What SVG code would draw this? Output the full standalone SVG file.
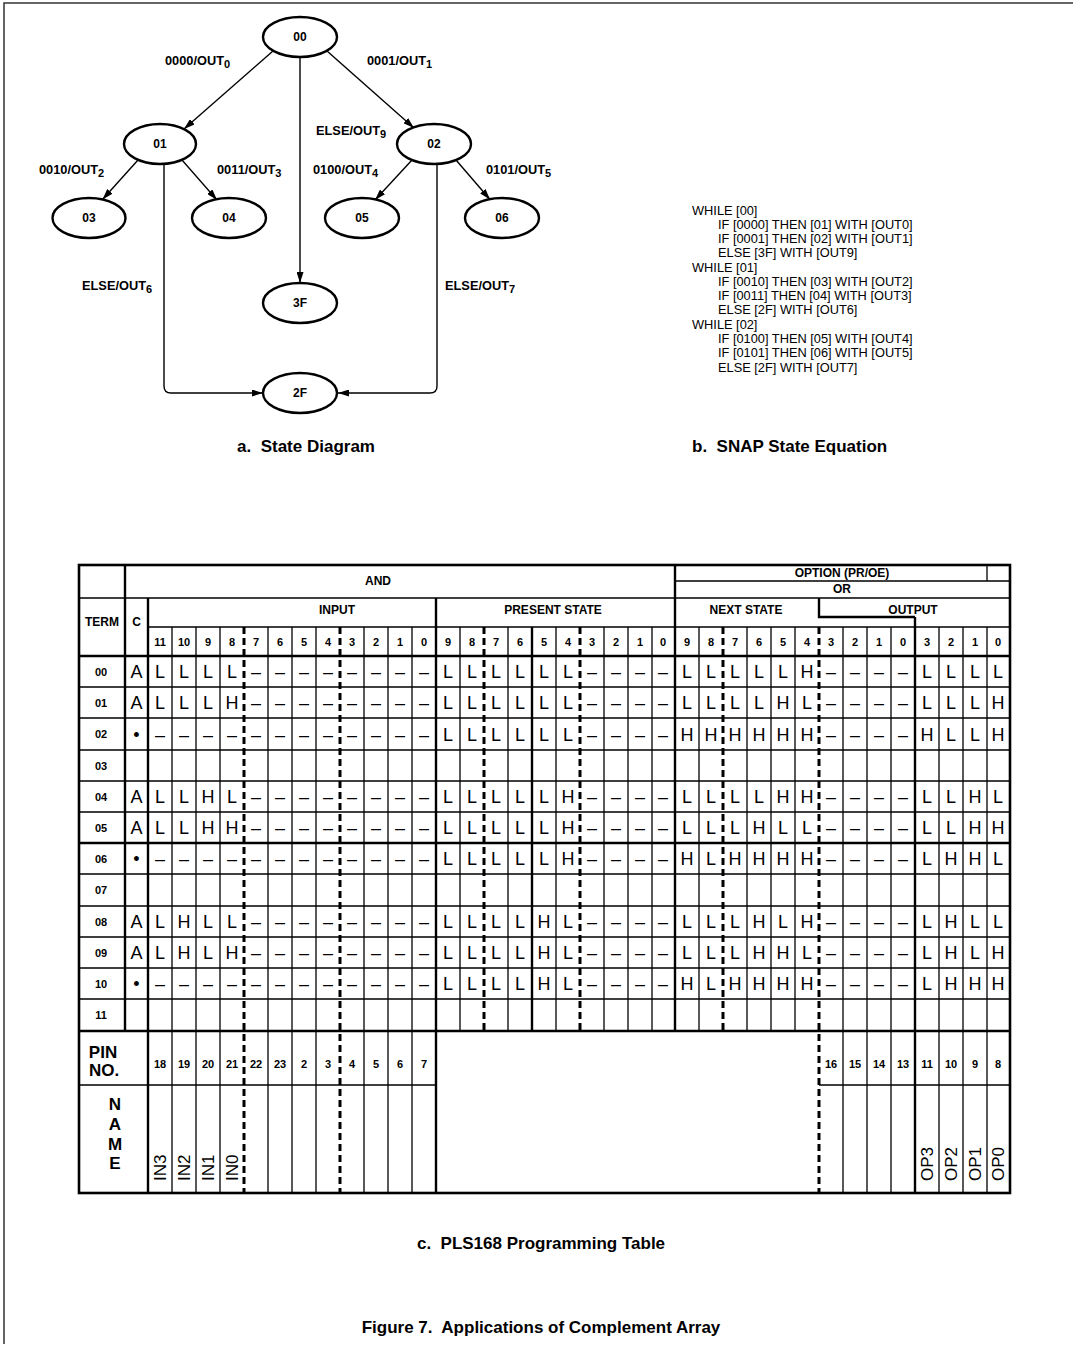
<svg xmlns="http://www.w3.org/2000/svg" width="1073" height="1346" viewBox="0 0 1073 1346">
<style>
text{font-family:"Liberation Sans",Arial,Helvetica,sans-serif;fill:#000}
.lbl{font-weight:bold;font-size:12.8px}
.sub{font-size:11px}
.nd{font-weight:bold;font-size:12px;text-anchor:middle}
.eq{font-size:12.8px}
.cap{font-weight:bold;font-size:17px;white-space:pre}
.hd{font-weight:bold;font-size:12px;text-anchor:middle}
.num{font-weight:bold;font-size:11px;text-anchor:middle}
.cell text{font-size:18px;text-anchor:middle}
.pin{font-weight:bold;font-size:17px;text-anchor:middle}
.nm{font-size:17px}
.e{fill:#fff;stroke:#000;stroke-width:2.4}
.c{fill:none;stroke:#000;stroke-width:1.4}
.thin{stroke:#000;stroke-width:1.3;fill:none}
.thick{stroke:#000;stroke-width:2.4;fill:none}
.dash{stroke:#000;stroke-width:3;stroke-dasharray:7 4;fill:none}
</style>
<defs>
<marker id="ah" viewBox="0 0 11 7" refX="11" refY="3.5" markerWidth="11" markerHeight="7" orient="auto" markerUnits="userSpaceOnUse">
<path d="M0,0 L11,3.5 L0,7 z" fill="#000"/>
</marker>
</defs>
<rect width="1073" height="1346" fill="#fff"/>
<g id="page-border">
<path d="M4,1344 V3 H1073" stroke="#333" stroke-width="1.5" fill="none"/>
</g>

<!-- State diagram -->
<g id="connectors">
<line class="c" x1="273" y1="51" x2="184" y2="129" marker-end="url(#ah)"/>
<line class="c" x1="327" y1="51" x2="414" y2="128" marker-end="url(#ah)"/>
<line class="c" x1="300" y1="57" x2="300" y2="283" marker-end="url(#ah)"/>
<line class="c" x1="138" y1="160" x2="102.5" y2="199.5" marker-end="url(#ah)"/>
<line class="c" x1="182" y1="160" x2="217" y2="200" marker-end="url(#ah)"/>
<line class="c" x1="412" y1="160" x2="375" y2="200" marker-end="url(#ah)"/>
<line class="c" x1="456" y1="160" x2="490" y2="199.5" marker-end="url(#ah)"/>
<path class="c" d="M164,164 V386 Q164,393 171,393 H263" marker-end="url(#ah)"/>
<path class="c" d="M437,164 V386 Q437,393 430,393 H338" marker-end="url(#ah)"/>
</g>
<g id="edge-labels">
<text class="lbl" x="165" y="65">0000/OUT<tspan class="sub" dy="3">0</tspan></text>
<text class="lbl" x="367" y="65">0001/OUT<tspan class="sub" dy="3">1</tspan></text>
<text class="lbl" x="316" y="135">ELSE/OUT<tspan class="sub" dy="3">9</tspan></text>
<text class="lbl" x="39" y="174">0010/OUT<tspan class="sub" dy="3">2</tspan></text>
<text class="lbl" x="217" y="174">0011/OUT<tspan class="sub" dy="3">3</tspan></text>
<text class="lbl" x="313" y="174">0100/OUT<tspan class="sub" dy="3">4</tspan></text>
<text class="lbl" x="486" y="174">0101/OUT<tspan class="sub" dy="3">5</tspan></text>
<text class="lbl" x="82" y="290">ELSE/OUT<tspan class="sub" dy="3">6</tspan></text>
<text class="lbl" x="445" y="290">ELSE/OUT<tspan class="sub" dy="3">7</tspan></text>
</g>
<g id="n00"><ellipse class="e" cx="300" cy="37" rx="37" ry="20"/><text class="nd" x="300" y="41">00</text></g>
<g id="n01"><ellipse class="e" cx="160" cy="144" rx="36" ry="20"/><text class="nd" x="160" y="148">01</text></g>
<g id="n02"><ellipse class="e" cx="434" cy="144" rx="37" ry="20"/><text class="nd" x="434" y="148">02</text></g>
<g id="n03"><ellipse class="e" cx="89" cy="218" rx="36.5" ry="20"/><text class="nd" x="89" y="222">03</text></g>
<g id="n04"><ellipse class="e" cx="229" cy="218" rx="37" ry="20"/><text class="nd" x="229" y="222">04</text></g>
<g id="n05"><ellipse class="e" cx="362" cy="218" rx="37" ry="20"/><text class="nd" x="362" y="222">05</text></g>
<g id="n06"><ellipse class="e" cx="502" cy="218" rx="37" ry="20"/><text class="nd" x="502" y="222">06</text></g>
<g id="n3F"><ellipse class="e" cx="300" cy="303" rx="37" ry="20"/><text class="nd" x="300" y="307">3F</text></g>
<g id="n2F"><ellipse class="e" cx="300" cy="393" rx="37" ry="20"/><text class="nd" x="300" y="397">2F</text></g>
<text class="cap" x="306" y="452" text-anchor="middle" xml:space="preserve">a.  State Diagram</text>

<!-- SNAP equation -->
<g id="snap-equation" class="eq">
<text class="eq" x="692" y="214.5">WHILE [00]</text>
<text class="eq" x="718" y="228.8">IF [0000] THEN [01] WITH [OUT0]</text>
<text class="eq" x="718" y="243">IF [0001] THEN [02] WITH [OUT1]</text>
<text class="eq" x="718" y="257.3">ELSE [3F] WITH [OUT9]</text>
<text class="eq" x="692" y="271.6">WHILE [01]</text>
<text class="eq" x="718" y="285.9">IF [0010] THEN [03] WITH [OUT2]</text>
<text class="eq" x="718" y="300.1">IF [0011] THEN [04] WITH [OUT3]</text>
<text class="eq" x="718" y="314.4">ELSE [2F] WITH [OUT6]</text>
<text class="eq" x="692" y="328.7">WHILE [02]</text>
<text class="eq" x="718" y="342.9">IF [0100] THEN [05] WITH [OUT4]</text>
<text class="eq" x="718" y="357.2">IF [0101] THEN [06] WITH [OUT5]</text>
<text class="eq" x="718" y="371.5">ELSE [2F] WITH [OUT7]</text>
</g>
<text class="cap" x="692" y="452" xml:space="preserve">b.  SNAP State Equation</text>

<!-- Programming table -->
<g id="table-grid">
<path class="thin" d="M172,627V1193M196,627V1193M220,627V1193M268,627V1193M292,627V1193M316,627V1193M364,627V1193M388,627V1193M412,627V1193M843,627V1193M867,627V1193M891,627V1193M939,627V1193M963,627V1193M987,627V1193M987,565V581"/>
<path class="thin" d="M460,627V1031M508,627V1031M556,627V1031M604,627V1031M628,627V1031M652,627V1031M699,627V1031M747,627V1031M771,627V1031M795,627V1031"/>
<path class="thin" d="M675,581H1010M79,598H1010M148,627H1010M79,687H1010M79,718H1010M79,750H1010M79,781H1010M79,812H1010M79,874H1010M79,906H1010M79,937H1010M79,968H1010M79,999H1010M79,1085H436M819,1085H1010"/>
<path class="thick" d="M79,656H1010" stroke-width="2"/>
<path class="thick" d="M79,843H1010M79,1031H1010M125,565V1031M148,598V1193M436,598V1193M532,627V1031M675,565V1031M915,617V1193M819,598V617H915"/>
<path class="dash" d="M244,627V1193M340,627V1193M819,627V1193M484,627V1031M580,627V1031M723,627V1031"/>
<rect x="79" y="565" width="931" height="628" fill="none" stroke="#000" stroke-width="2.6"/>
</g>
<g id="table-headers">
<text class="hd" x="378" y="585">AND</text>
<text class="hd" x="842" y="577">OPTION (PR/OE)</text>
<text class="hd" x="842" y="593">OR</text>
<text class="hd" x="337" y="614">INPUT</text>
<text class="hd" x="553" y="614">PRESENT STATE</text>
<text class="hd" x="746" y="614">NEXT STATE</text>
<text class="hd" x="913" y="614">OUTPUT</text>
<text class="hd" x="102" y="626">TERM</text>
<text class="hd" x="136.5" y="626">C</text>
</g>
<g id="column-numbers" class="num">
<text class="num" x="160" y="646">11</text><text class="num" x="184" y="646">10</text><text class="num" x="208" y="646">9</text><text class="num" x="232" y="646">8</text><text class="num" x="256" y="646">7</text><text class="num" x="280" y="646">6</text><text class="num" x="304" y="646">5</text><text class="num" x="328" y="646">4</text><text class="num" x="352" y="646">3</text><text class="num" x="376" y="646">2</text><text class="num" x="400" y="646">1</text><text class="num" x="424" y="646">0</text>
<text class="num" x="448" y="646">9</text><text class="num" x="472" y="646">8</text><text class="num" x="496" y="646">7</text><text class="num" x="520" y="646">6</text><text class="num" x="544" y="646">5</text><text class="num" x="568" y="646">4</text><text class="num" x="592" y="646">3</text><text class="num" x="616" y="646">2</text><text class="num" x="640" y="646">1</text><text class="num" x="663" y="646">0</text>
<text class="num" x="687" y="646">9</text><text class="num" x="711" y="646">8</text><text class="num" x="735" y="646">7</text><text class="num" x="759" y="646">6</text><text class="num" x="783" y="646">5</text><text class="num" x="807" y="646">4</text><text class="num" x="831" y="646">3</text><text class="num" x="855" y="646">2</text><text class="num" x="879" y="646">1</text><text class="num" x="903" y="646">0</text>
<text class="num" x="927" y="646">3</text><text class="num" x="951" y="646">2</text><text class="num" x="975" y="646">1</text><text class="num" x="998" y="646">0</text>
</g>
<g id="term-labels">
<text class="num" x="101" y="675.5">00</text>
<text class="num" x="101" y="706.5">01</text>
<text class="num" x="101" y="738">02</text>
<text class="num" x="101" y="769.5">03</text>
<text class="num" x="101" y="800.5">04</text>
<text class="num" x="101" y="831.5">05</text>
<text class="num" x="101" y="862.5">06</text>
<text class="num" x="101" y="894">07</text>
<text class="num" x="101" y="925.5">08</text>
<text class="num" x="101" y="956.5">09</text>
<text class="num" x="101" y="987.5">10</text>
<text class="num" x="101" y="1019">11</text>
</g>
<g id="row00" class="cell" transform="translate(0,678)">
<text x="136.5">A</text><text x="160">L</text><text x="184">L</text><text x="208">L</text><text x="232">L</text><text x="256">–</text><text x="280">–</text><text x="304">–</text><text x="328">–</text><text x="352">–</text><text x="376">–</text><text x="400">–</text><text x="424">–</text>
<text x="448">L</text><text x="472">L</text><text x="496">L</text><text x="520">L</text><text x="544">L</text><text x="568">L</text><text x="592">–</text><text x="616">–</text><text x="640">–</text><text x="663">–</text>
<text x="687">L</text><text x="711">L</text><text x="735">L</text><text x="759">L</text><text x="783">L</text><text x="807">H</text><text x="831">–</text><text x="855">–</text><text x="879">–</text><text x="903">–</text>
<text x="927">L</text><text x="951">L</text><text x="975">L</text><text x="998">L</text>
</g>
<g id="row01" class="cell" transform="translate(0,709)">
<text x="136.5">A</text><text x="160">L</text><text x="184">L</text><text x="208">L</text><text x="232">H</text><text x="256">–</text><text x="280">–</text><text x="304">–</text><text x="328">–</text><text x="352">–</text><text x="376">–</text><text x="400">–</text><text x="424">–</text>
<text x="448">L</text><text x="472">L</text><text x="496">L</text><text x="520">L</text><text x="544">L</text><text x="568">L</text><text x="592">–</text><text x="616">–</text><text x="640">–</text><text x="663">–</text>
<text x="687">L</text><text x="711">L</text><text x="735">L</text><text x="759">L</text><text x="783">H</text><text x="807">L</text><text x="831">–</text><text x="855">–</text><text x="879">–</text><text x="903">–</text>
<text x="927">L</text><text x="951">L</text><text x="975">L</text><text x="998">H</text>
</g>
<g id="row02" class="cell" transform="translate(0,740.5)">
<text x="136.5">•</text><text x="160">–</text><text x="184">–</text><text x="208">–</text><text x="232">–</text><text x="256">–</text><text x="280">–</text><text x="304">–</text><text x="328">–</text><text x="352">–</text><text x="376">–</text><text x="400">–</text><text x="424">–</text>
<text x="448">L</text><text x="472">L</text><text x="496">L</text><text x="520">L</text><text x="544">L</text><text x="568">L</text><text x="592">–</text><text x="616">–</text><text x="640">–</text><text x="663">–</text>
<text x="687">H</text><text x="711">H</text><text x="735">H</text><text x="759">H</text><text x="783">H</text><text x="807">H</text><text x="831">–</text><text x="855">–</text><text x="879">–</text><text x="903">–</text>
<text x="927">H</text><text x="951">L</text><text x="975">L</text><text x="998">H</text>
</g>
<g id="row04" class="cell" transform="translate(0,803)">
<text x="136.5">A</text><text x="160">L</text><text x="184">L</text><text x="208">H</text><text x="232">L</text><text x="256">–</text><text x="280">–</text><text x="304">–</text><text x="328">–</text><text x="352">–</text><text x="376">–</text><text x="400">–</text><text x="424">–</text>
<text x="448">L</text><text x="472">L</text><text x="496">L</text><text x="520">L</text><text x="544">L</text><text x="568">H</text><text x="592">–</text><text x="616">–</text><text x="640">–</text><text x="663">–</text>
<text x="687">L</text><text x="711">L</text><text x="735">L</text><text x="759">L</text><text x="783">H</text><text x="807">H</text><text x="831">–</text><text x="855">–</text><text x="879">–</text><text x="903">–</text>
<text x="927">L</text><text x="951">L</text><text x="975">H</text><text x="998">L</text>
</g>
<g id="row05" class="cell" transform="translate(0,834)">
<text x="136.5">A</text><text x="160">L</text><text x="184">L</text><text x="208">H</text><text x="232">H</text><text x="256">–</text><text x="280">–</text><text x="304">–</text><text x="328">–</text><text x="352">–</text><text x="376">–</text><text x="400">–</text><text x="424">–</text>
<text x="448">L</text><text x="472">L</text><text x="496">L</text><text x="520">L</text><text x="544">L</text><text x="568">H</text><text x="592">–</text><text x="616">–</text><text x="640">–</text><text x="663">–</text>
<text x="687">L</text><text x="711">L</text><text x="735">L</text><text x="759">H</text><text x="783">L</text><text x="807">L</text><text x="831">–</text><text x="855">–</text><text x="879">–</text><text x="903">–</text>
<text x="927">L</text><text x="951">L</text><text x="975">H</text><text x="998">H</text>
</g>
<g id="row06" class="cell" transform="translate(0,865)">
<text x="136.5">•</text><text x="160">–</text><text x="184">–</text><text x="208">–</text><text x="232">–</text><text x="256">–</text><text x="280">–</text><text x="304">–</text><text x="328">–</text><text x="352">–</text><text x="376">–</text><text x="400">–</text><text x="424">–</text>
<text x="448">L</text><text x="472">L</text><text x="496">L</text><text x="520">L</text><text x="544">L</text><text x="568">H</text><text x="592">–</text><text x="616">–</text><text x="640">–</text><text x="663">–</text>
<text x="687">H</text><text x="711">L</text><text x="735">H</text><text x="759">H</text><text x="783">H</text><text x="807">H</text><text x="831">–</text><text x="855">–</text><text x="879">–</text><text x="903">–</text>
<text x="927">L</text><text x="951">H</text><text x="975">H</text><text x="998">L</text>
</g>
<g id="row08" class="cell" transform="translate(0,928)">
<text x="136.5">A</text><text x="160">L</text><text x="184">H</text><text x="208">L</text><text x="232">L</text><text x="256">–</text><text x="280">–</text><text x="304">–</text><text x="328">–</text><text x="352">–</text><text x="376">–</text><text x="400">–</text><text x="424">–</text>
<text x="448">L</text><text x="472">L</text><text x="496">L</text><text x="520">L</text><text x="544">H</text><text x="568">L</text><text x="592">–</text><text x="616">–</text><text x="640">–</text><text x="663">–</text>
<text x="687">L</text><text x="711">L</text><text x="735">L</text><text x="759">H</text><text x="783">L</text><text x="807">H</text><text x="831">–</text><text x="855">–</text><text x="879">–</text><text x="903">–</text>
<text x="927">L</text><text x="951">H</text><text x="975">L</text><text x="998">L</text>
</g>
<g id="row09" class="cell" transform="translate(0,959)">
<text x="136.5">A</text><text x="160">L</text><text x="184">H</text><text x="208">L</text><text x="232">H</text><text x="256">–</text><text x="280">–</text><text x="304">–</text><text x="328">–</text><text x="352">–</text><text x="376">–</text><text x="400">–</text><text x="424">–</text>
<text x="448">L</text><text x="472">L</text><text x="496">L</text><text x="520">L</text><text x="544">H</text><text x="568">L</text><text x="592">–</text><text x="616">–</text><text x="640">–</text><text x="663">–</text>
<text x="687">L</text><text x="711">L</text><text x="735">L</text><text x="759">H</text><text x="783">H</text><text x="807">L</text><text x="831">–</text><text x="855">–</text><text x="879">–</text><text x="903">–</text>
<text x="927">L</text><text x="951">H</text><text x="975">L</text><text x="998">H</text>
</g>
<g id="row10" class="cell" transform="translate(0,990)">
<text x="136.5">•</text><text x="160">–</text><text x="184">–</text><text x="208">–</text><text x="232">–</text><text x="256">–</text><text x="280">–</text><text x="304">–</text><text x="328">–</text><text x="352">–</text><text x="376">–</text><text x="400">–</text><text x="424">–</text>
<text x="448">L</text><text x="472">L</text><text x="496">L</text><text x="520">L</text><text x="544">H</text><text x="568">L</text><text x="592">–</text><text x="616">–</text><text x="640">–</text><text x="663">–</text>
<text x="687">H</text><text x="711">L</text><text x="735">H</text><text x="759">H</text><text x="783">H</text><text x="807">H</text><text x="831">–</text><text x="855">–</text><text x="879">–</text><text x="903">–</text>
<text x="927">L</text><text x="951">H</text><text x="975">H</text><text x="998">H</text>
</g>
<g id="pin-row">
<text class="pin" x="103" y="1058">PIN</text>
<text class="pin" x="104" y="1076">NO.</text>
<text class="num" x="160" y="1068">18</text><text class="num" x="184" y="1068">19</text><text class="num" x="208" y="1068">20</text><text class="num" x="232" y="1068">21</text><text class="num" x="256" y="1068">22</text><text class="num" x="280" y="1068">23</text><text class="num" x="304" y="1068">2</text><text class="num" x="328" y="1068">3</text><text class="num" x="352" y="1068">4</text><text class="num" x="376" y="1068">5</text><text class="num" x="400" y="1068">6</text><text class="num" x="424" y="1068">7</text>
<text class="num" x="831" y="1068">16</text><text class="num" x="855" y="1068">15</text><text class="num" x="879" y="1068">14</text><text class="num" x="903" y="1068">13</text><text class="num" x="927" y="1068">11</text><text class="num" x="951" y="1068">10</text><text class="num" x="975" y="1068">9</text><text class="num" x="998" y="1068">8</text>
</g>
<g id="name-row">
<text class="pin" x="115" y="1110">N</text>
<text class="pin" x="115" y="1130">A</text>
<text class="pin" x="115" y="1150">M</text>
<text class="pin" x="115" y="1169">E</text>
<text class="nm" transform="translate(166,1181) rotate(-90)">IN3</text>
<text class="nm" transform="translate(190,1181) rotate(-90)">IN2</text>
<text class="nm" transform="translate(214,1181) rotate(-90)">IN1</text>
<text class="nm" transform="translate(238,1181) rotate(-90)">IN0</text>
<text class="nm" transform="translate(933,1181) rotate(-90)">OP3</text>
<text class="nm" transform="translate(957,1181) rotate(-90)">OP2</text>
<text class="nm" transform="translate(981,1181) rotate(-90)">OP1</text>
<text class="nm" transform="translate(1004,1181) rotate(-90)">OP0</text>
</g>
<text class="cap" x="541" y="1249" text-anchor="middle" xml:space="preserve">c.  PLS168 Programming Table</text>
<text class="cap" x="541" y="1333" text-anchor="middle" xml:space="preserve">Figure 7.  Applications of Complement Array</text>
</svg>
